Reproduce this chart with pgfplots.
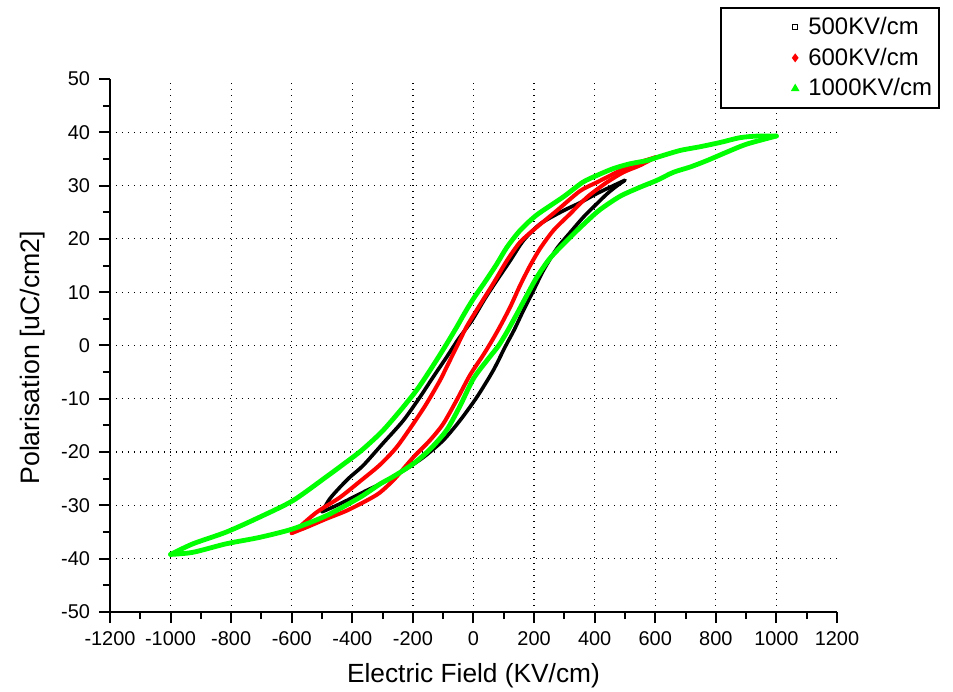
\documentclass[border=0pt]{standalone}
\usepackage{fontspec}
\setmainfont{Liberation Sans}
\usepackage{pgfplots}
\pgfplotsset{compat=1.18}
\definecolor{cGreen}{RGB}{0,255,0}
\definecolor{cRed}{RGB}{255,0,0}

% 500 KV/cm loop (black): rising branch, then falling branch
\pgfplotstableread{
x y
-500 -31.2
-463 -30.3
-419 -29.1
-353 -27.2
-309 -26.0
-232 -23.5
-166 -21.0
-100 -17.8
-45 -14.1
11 -9.7
65 -4.7
105 -0.2
135 3.0
165 6.6
198 10.3
231 14.1
275 18.2
319 21.2
363 24.1
400 26.2
440 28.4
470 29.8
500 31.0
}\blackup
\pgfplotstableread{
x y
500 31.0
462 30.0
407 28.5
352 26.8
297 25.3
220 22.8
165 19.7
121 15.9
77 12.2
38 8.8
-5 4.7
-50 1.2
-89 -2.2
-133 -5.9
-177 -9.7
-232 -14.1
-298 -18.3
-364 -22.5
-408 -24.7
-441 -26.6
-475 -28.8
-500 -31.2
}\blackdown

% 600 KV/cm loop (red)
\pgfplotstableread{
x y
-600 -35.2
-551 -34.1
-485 -32.5
-419 -31.0
-353 -29.1
-309 -27.6
-260 -25.0
-199 -21.0
-144 -17.8
-100 -14.7
-56 -10.3
-12 -5.6
32 -1.8
60 0.8
88 3.6
121 7.2
154 11.3
187 15.0
220 18.2
264 21.6
319 24.7
352 26.6
385 28.3
440 30.6
495 32.5
550 33.8
600 35.3
}\redup
\pgfplotstableread{
x y
600 35.3
560 34.6
517 33.8
462 32.2
407 30.6
352 29.0
275 25.3
209 22.2
154 19.4
110 15.9
65 11.6
21 7.6
-22 3.6
-56 -0.3
-90 -4.2
-111 -6.6
-155 -10.9
-199 -14.7
-254 -19.1
-309 -22.4
-375 -25.5
-441 -28.5
-518 -31.3
-584 -34.5
-600 -35.2
}\reddown

% 1000 KV/cm loop (green)
\pgfplotstableread{
x y
-1000 -39.2
-926 -38.8
-816 -37.2
-706 -36.0
-596 -34.4
-485 -31.9
-375 -28.5
-309 -26.0
-265 -24.6
-199 -22.2
-144 -19.5
-89 -15.9
-45 -11.4
0 -6.2
50 -2.4
82 -0.1
110 2.5
143 5.9
176 9.4
209 12.8
253 16.4
319 20.3
374 23.3
418 25.5
484 28.0
550 29.7
606 31.0
660 32.5
716 33.5
771 34.7
837 36.3
903 37.8
1000 39.3
}\greenup
\pgfplotstableread{
x y
1000 39.3
940 39.3
881 39.0
815 38.1
749 37.3
683 36.6
617 35.5
573 34.7
517 34.1
462 33.2
407 31.9
360 30.6
297 27.9
209 24.5
154 21.6
110 18.4
77 15.3
40 12.1
0 8.8
-30 6.0
-56 3.4
-95 -0.3
-144 -4.7
-188 -8.4
-243 -12.3
-303 -16.2
-370 -19.7
-430 -22.3
-485 -24.6
-596 -29.1
-706 -32.2
-816 -35.0
-926 -37.2
-1000 -39.2
}\greendown

\begin{document}
\begin{tikzpicture}
\useasboundingbox (-55bp,-40bp) rectangle (421.5bp,306bp);
\begin{axis}[
  at={(0,0)}, anchor=south west,
  scale only axis, width=363.5bp, height=266.5bp,
  xmin=-1200, xmax=1200, ymin=-50, ymax=50,
  axis x line*=bottom, axis y line*=left,
  axis line style={line width=1.3bp, -},
  xtick={-1200,-1000,-800,-600,-400,-200,0,200,400,600,800,1000,1200},
  xticklabels={-1200,-1000,-800,-600,-400,-200,0,200,400,600,800,1000,1200},
  ytick={-50,-40,-30,-20,-10,0,10,20,30,40,50},
  yticklabels={-50,-40,-30,-20,-10,0,10,20,30,40,50},
  minor x tick num=1, minor y tick num=1,
  tick align=outside, major tick length=5.5bp, minor tick length=3.5bp,
  every tick/.style={black, line width=1bp},
  tick label style={font=\fontsize{10}{12}\selectfont},
  xticklabel style={yshift=-1bp},
  yticklabel style={xshift=-1bp},
  xlabel={Electric Field (KV/cm)},
  ylabel={Polarisation [uC/cm2]},
  every axis x label/.style={at={(axis description cs:0.5,-0.133)}, anchor=base,
    font=\fontsize{13.2}{16}\selectfont},
  every axis y label/.style={at={(axis description cs:-0.106,0.477)}, rotate=90, anchor=center,
    font=\fontsize{13.4}{16}\selectfont},
  legend style={at={(axis description cs:1.1417,1.1351)}, anchor=north east,
    draw=black, line width=0.8bp, font=\fontsize{12}{14}\selectfont,
    inner xsep=2bp, inner ysep=3bp, row sep=2bp,
    nodes={inner sep=1.6bp}, cells={anchor=west}},
  legend image code/.code={\path[draw=none] (-4bp,0) -- (36bp,0); \draw[only marks] plot coordinates {(31bp,0)};},
  loop/.style={forget plot, smooth, tension=0.45, line cap=round, line join=round},
  clip=false,
]
\pgfplotsinvokeforeach{-1000,-800,-600,-400,-200,0,200,400,600,800,1000}{
  \draw[black, line width=0.6bp, dash pattern=on 0.6bp off 2.4bp] (axis cs:#1,-50) -- (axis cs:#1,50);
}
\pgfplotsinvokeforeach{-40,-30,-20,-10,0,10,20,30,40}{
  \draw[black, line width=0.6bp, dash pattern=on 0.6bp off 2.4bp] (axis cs:-1200,#1) -- (axis cs:1200,#1);
}
\addplot[loop, black, line width=1.8bp] table {\blackup};
\addplot[loop, black, line width=1.8bp] table {\blackdown};
\addplot[loop, cRed, line width=2bp] table {\redup};
\addplot[loop, cRed, line width=2bp] table {\reddown};
\addplot[loop, cGreen, line width=2.4bp] table {\greenup};
\addplot[loop, cGreen, line width=2.4bp] table {\greendown};
\addlegendimage{black, mark=square, mark size=1.3bp, line width=0.5bp}
\addlegendimage{cRed, mark=diamond*, mark size=1.6bp}
\addlegendimage{cGreen, mark=triangle*, mark size=1.7bp}
\legend{500KV/cm, 600KV/cm, 1000KV/cm}
\end{axis}
\end{tikzpicture}
\end{document}
